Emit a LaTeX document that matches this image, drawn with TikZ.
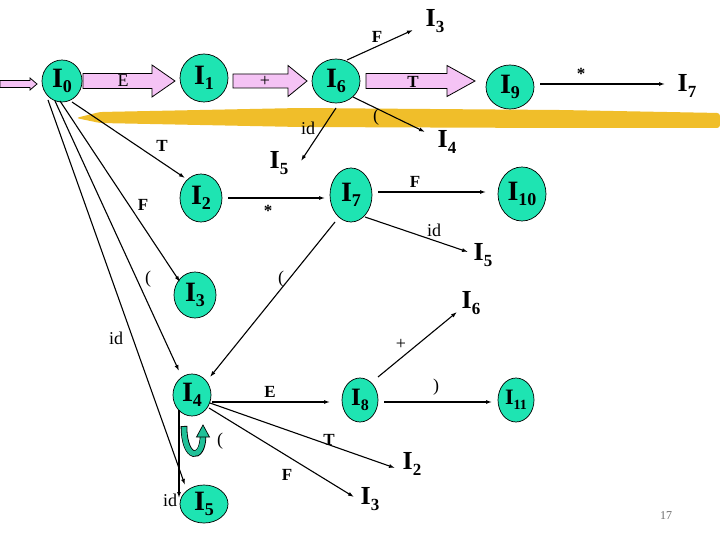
\documentclass[tikz,border=0pt]{standalone}
\usepackage{fontspec}
\setmainfont{Liberation Serif}
\usetikzlibrary{shapes.geometric,arrows.meta,calc}
\definecolor{tealc}{RGB}{30,228,178}
\definecolor{loopc}{RGB}{32,192,152}
\definecolor{pinkc}{RGB}{245,195,245}
\definecolor{hl}{RGB}{240,190,42}
\definecolor{pgc}{RGB}{110,110,110}
\newcommand\II[3]{{\fontsize{#1}{#1}\selectfont\bfseries I\raisebox{-5.5pt}{\fontsize{#2}{#2}\selectfont #3}}}
\newcommand\blockarr[5]{\draw[blk] let \p1=(#1), \p2=(#2) in (\x1,\y1+#3) -- (\x2-#5,\y1+#3) -- (\x2-#5,\y1+#4) -- (\x2,\y1) -- (\x2-#5,\y1-#4) -- (\x2-#5,\y1-#3) -- (\x1,\y1-#3) -- cycle;}
\begin{document}
\begin{tikzpicture}[x=1pt,y=-1pt,
  st/.style={ellipse, draw=black, line width=0.7pt, fill=tealc, inner sep=0pt},
  itext/.style={inner sep=1pt},
  arr/.style={draw, line width=1.1pt, -{Latex[length=6pt,width=4pt]}},
  lbl/.style={inner sep=0pt, font=\fontsize{17}{17}\selectfont\bfseries},
  lblr/.style={inner sep=0pt, font=\fontsize{18}{18}\selectfont},
  blk/.style={draw=black, line width=0.8pt, fill=pinkc, line join=miter}]
\useasboundingbox (0,0) rectangle (720,540);
\fill[white] (0,0) rectangle (720,540);
% highlighter stroke
\fill[hl, rounded corners=3pt] (76,118) -- (100,112) -- (300,108) -- (560,110) -- (720,113)
  -- (720,128) -- (560,128) -- (300,127) -- (100,123) -- cycle;

% state circles
\node[st, minimum width=40pt, minimum height=42pt] (I0) at (62,81) {\II{28}{18}{0}};
\node[st, minimum width=48pt, minimum height=48pt] (I1) at (204,78) {\II{28}{18}{1}};
\node[st, minimum width=48pt, minimum height=44pt] (I6) at (336,81) {\II{28}{18}{6}};
\node[st, minimum width=48pt, minimum height=44pt] (I9) at (510,87) {\II{28}{18}{9}};
\node[st, minimum width=42pt, minimum height=48pt] (I2) at (201,198) {\II{28}{18}{2}};
\node[st, minimum width=42pt, minimum height=54pt] (I7) at (351,195) {\II{28}{18}{7}};
\node[st, minimum width=48pt, minimum height=54pt] (I10) at (522,194) {\II{28}{18}{10}};
\node[st, minimum width=42pt, minimum height=46pt] (I3) at (195,295) {\II{28}{18}{3}};
\node[st, minimum width=38pt, minimum height=42pt] (I4) at (192,395) {\II{28}{18}{4}};
\node[st, minimum width=36pt, minimum height=44pt] (I8) at (360,400) {\II{25}{16}{8}};
\node[st, minimum width=36pt, minimum height=44pt] (I11) at (516,400) {\II{22}{14}{11}};
\node[st, minimum width=48pt, minimum height=38pt] (I5) at (204,504) {\II{28}{18}{5}};

% plain state labels
\node[itext] (I3t) at (435,21) {\II{26}{17}{3}};
\node[itext] (I7t) at (687,86) {\II{26}{17}{7}};
\node[itext] (I4t) at (447,142) {\II{26}{17}{4}};
\node[itext] (I5t) at (279,163) {\II{26}{17}{5}};
\node[itext] (I5tb) at (483,255) {\II{26}{17}{5}};
\node[itext] (I6tb) at (471,303) {\II{26}{17}{6}};
\node[itext] (I2t) at (412,464) {\II{26}{17}{2}};
\node[itext] (I3tb) at (370,499) {\II{26}{17}{3}};

% block arrows
\coordinate (entry) at (0,84);
\blockarr{entry}{[shift={(-25,3)}]I0.center}{3.5pt}{6pt}{7pt}
\blockarr{[shift={(21,0)}]I0.center}{[shift={(-29,0)}]I1.center}{7.5pt}{16pt}{23pt}
\node[lblr] (lE0) at (123,81) {E};
\blockarr{[shift={(29,3)}]I1.center}{[shift={(-29,0)}]I6.center}{7pt}{15.5pt}{19pt}
\node[lblr] (lp0) at (265,81) {+};
\blockarr{[shift={(30,0)}]I6.center}{[shift={(-35,0)}]I9.center}{7.5pt}{15.5pt}{28pt}
\node[lbl] (lT0) at (413,82) {T};

% thin transitions
\draw[arr] ([shift={(11,-21)}]I6.center) -- ([shift={(-22,9)}]I3t.center);
\node[lbl] (lF1) at (377,37) {F};
\draw[arr] ([shift={(30,-3)}]I9.center) -- ([shift={(-22,-2)}]I7t.center);
\node[lbl] (ls1) at (581,74) {*};
\draw[arr] ([shift={(17,16)}]I6.center) -- ([shift={(-22,-10)}]I4t.center);
\node[lblr] (lo1) at (376,117) {(};
\draw[arr] ([shift={(0,27)}]I6.center) -- ([shift={(22,-2)}]I5t.center);
\node[lblr] (lid1) at (308,128) {id};
\draw[arr] ([shift={(10,21)}]I0.center) -- ([shift={(-16,-20)}]I2.center);
\node[lbl] (lT1) at (162,146) {T};
\draw[arr] ([shift={(27,0)}]I2.center) -- ([shift={(-26,3)}]I7.center);
\node[lbl] (ls2) at (268,211) {*};
\draw[arr] ([shift={(27,-3)}]I7.center) -- ([shift={(-36,-2)}]I10.center);
\node[lbl] (lF2) at (415,182) {F};
\draw[arr] ([shift={(14,22)}]I7.center) -- ([shift={(-15,-3)}]I5tb.center);
\node[lblr] (lid2) at (434,230) {id};
\draw[arr] ([shift={(-2,20)}]I0.center) -- ([shift={(-15,-13)}]I3.center);
\node[lbl] (lF3) at (143,205) {F};
\draw[arr] ([shift={(-7,20)}]I0.center) -- ([shift={(-13,-24)}]I4.center);
\node[lblr] (lo2) at (148,279) {(};
\draw[arr] ([shift={(-16,27)}]I7.center) -- ([shift={(18,-18)}]I4.center);
\node[lblr] (lo3) at (281,279) {(};
\draw[arr] ([shift={(-14,19)}]I0.center) -- ([shift={(-19,-19)}]I5.center);
\node[lblr] (lid3) at (116,338) {id};
\draw[arr] ([shift={(18,-23)}]I8.center) -- ([shift={(-14,9)}]I6tb.center);
\node[lblr] (lp1) at (401,344) {+};
\draw[arr] ([shift={(24,2)}]I8.center) -- ([shift={(-24,2)}]I11.center);
\node[lblr] (lc1) at (436,387) {)};
\draw[arr] ([shift={(20,7)}]I4.center) -- ([shift={(-30,2)}]I8.center);
\node[lbl] (lE1) at (270,392) {E};
\draw[arr] ([shift={(18,8)}]I4.center) -- ([shift={(-17,4)}]I2t.center);
\node[lbl] (lT2) at (329,440) {T};
\draw[arr] ([shift={(17,13)}]I4.center) -- ([shift={(-16,-2)}]I3tb.center);
\node[lbl] (lF4) at (287,475) {F};
\draw[arr] ([shift={(-13,15)}]I4.center) -- ([shift={(-25,-6)}]I5.center);
\node[lblr] (lid4) at (170,500) {id};

% self loop on I4
\begin{scope}[shift={(I4.center)}]
  \draw[black, line width=6.6pt] (-8,31) .. controls (-8,66) and (11,66) .. (11,41);
  \draw[loopc, line width=5pt] (-8,31.8) .. controls (-8,66) and (11,66) .. (11,40);
  \draw[black, line width=0.7pt, fill=loopc] (4.5,42) -- (17.5,42) -- (11,30) -- cycle;
\end{scope}
\node[lblr] (lo4) at (220,441) {(};

\node[font=\fontsize{12}{12}\selectfont, text=pgc] (pg) at (666,516) {17};
\end{tikzpicture}
\end{document}
